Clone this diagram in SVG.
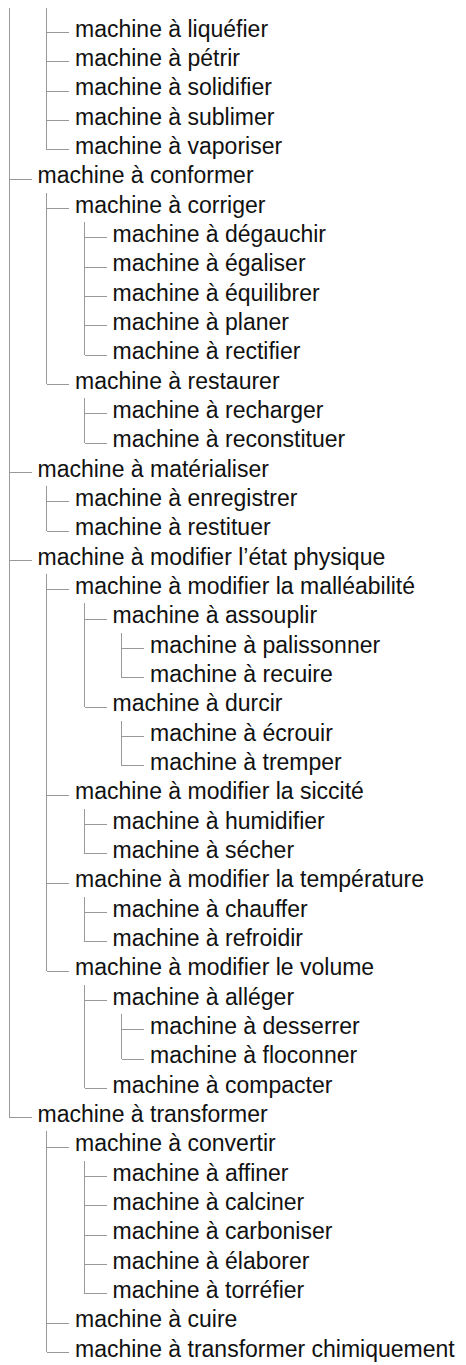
<svg xmlns="http://www.w3.org/2000/svg" width="466" height="1365" viewBox="0 0 466 1365">
<style>
text{font-family:"Liberation Sans",Arial,sans-serif;font-size:23px;fill:#111}
#connectors path{fill:none;stroke:#999;stroke-width:1;shape-rendering:crispEdges}
</style>
<rect width="466" height="1365" fill="#fff"/>
<g id="connectors">
<path d="M9.5 8V1117.67"/>
<path d="M46.5 8V149.67"/>
<path d="M46.5 192.5V384.33"/>
<path d="M84.5 221.83V355"/>
<path d="M84.5 397.83V443"/>
<path d="M46.5 485.83V531"/>
<path d="M46.5 573.83V971"/>
<path d="M84.5 603.17V707"/>
<path d="M121.5 632.5V677.67"/>
<path d="M121.5 720.5V765.67"/>
<path d="M84.5 808.5V853.67"/>
<path d="M84.5 896.5V941.67"/>
<path d="M84.5 984.5V1088.33"/>
<path d="M121.5 1013.83V1059"/>
<path d="M46.5 1131.17V1352.33"/>
<path d="M84.5 1160.5V1293.67"/>
<path d="M46.5 32.33h22M46.5 61.67h22M46.5 91h22M46.5 120.33h22M46.5 149.67h22"/>
<path d="M9.5 179h22M46.5 208.33h22M84.5 237.67h22M84.5 267h22M84.5 296.33h22M84.5 325.67h22M84.5 355h22M46.5 384.33h22M84.5 413.67h22M84.5 443h22"/>
<path d="M9.5 472.33h22M46.5 501.67h22M46.5 531h22"/>
<path d="M9.5 560.33h22M46.5 589.67h22M84.5 619h22M121.5 648.33h22M121.5 677.67h22M84.5 707h22M121.5 736.33h22M121.5 765.67h22"/>
<path d="M46.5 795h22M84.5 824.33h22M84.5 853.67h22M46.5 883h22M84.5 912.33h22M84.5 941.67h22"/>
<path d="M46.5 971h22M84.5 1000.33h22M121.5 1029.67h22M121.5 1059h22M84.5 1088.33h22"/>
<path d="M9.5 1117.67h22M46.5 1147h22M84.5 1176.33h22M84.5 1205.67h22M84.5 1235h22M84.5 1264.33h22M84.5 1293.67h22M46.5 1323h22M46.5 1352.33h22"/>
</g>
<g id="n01"><text x="75" y="36.5">machine à liquéfier</text></g>
<g id="n02"><text x="75" y="65.9">machine à pétrir</text></g>
<g id="n03"><text x="75" y="95.2">machine à solidifier</text></g>
<g id="n04"><text x="75" y="124.5">machine à sublimer</text></g>
<g id="n05"><text x="75" y="153.9">machine à vaporiser</text></g>
<g id="n06"><text x="37.5" y="183.2">machine à conformer</text></g>
<g id="n07"><text x="75" y="212.5">machine à corriger</text></g>
<g id="n08"><text x="112.5" y="241.9">machine à dégauchir</text></g>
<g id="n09"><text x="112.5" y="271.2">machine à égaliser</text></g>
<g id="n10"><text x="112.5" y="300.5">machine à équilibrer</text></g>
<g id="n11"><text x="112.5" y="329.9">machine à planer</text></g>
<g id="n12"><text x="112.5" y="359.2">machine à rectifier</text></g>
<g id="n13"><text x="75" y="388.5">machine à restaurer</text></g>
<g id="n14"><text x="112.5" y="417.9">machine à recharger</text></g>
<g id="n15"><text x="112.5" y="447.2">machine à reconstituer</text></g>
<g id="n16"><text x="37.5" y="476.5">machine à matérialiser</text></g>
<g id="n17"><text x="75" y="505.9">machine à enregistrer</text></g>
<g id="n18"><text x="75" y="535.2">machine à restituer</text></g>
<g id="n19"><text x="37.5" y="564.5">machine à modifier l’état physique</text></g>
<g id="n20"><text x="75" y="593.9">machine à modifier la malléabilité</text></g>
<g id="n21"><text x="112.5" y="623.2">machine à assouplir</text></g>
<g id="n22"><text x="150" y="652.5">machine à palissonner</text></g>
<g id="n23"><text x="150" y="681.9">machine à recuire</text></g>
<g id="n24"><text x="112.5" y="711.2">machine à durcir</text></g>
<g id="n25"><text x="150" y="740.5">machine à écrouir</text></g>
<g id="n26"><text x="150" y="769.9">machine à tremper</text></g>
<g id="n27"><text x="75" y="799.2">machine à modifier la siccité</text></g>
<g id="n28"><text x="112.5" y="828.5">machine à humidifier</text></g>
<g id="n29"><text x="112.5" y="857.9">machine à sécher</text></g>
<g id="n30"><text x="75" y="887.2">machine à modifier la température</text></g>
<g id="n31"><text x="112.5" y="916.5">machine à chauffer</text></g>
<g id="n32"><text x="112.5" y="945.9">machine à refroidir</text></g>
<g id="n33"><text x="75" y="975.2">machine à modifier le volume</text></g>
<g id="n34"><text x="112.5" y="1004.5">machine à alléger</text></g>
<g id="n35"><text x="150" y="1033.9">machine à desserrer</text></g>
<g id="n36"><text x="150" y="1063.2">machine à floconner</text></g>
<g id="n37"><text x="112.5" y="1092.5">machine à compacter</text></g>
<g id="n38"><text x="37.5" y="1121.9">machine à transformer</text></g>
<g id="n39"><text x="75" y="1151.2">machine à convertir</text></g>
<g id="n40"><text x="112.5" y="1180.5">machine à affiner</text></g>
<g id="n41"><text x="112.5" y="1209.9">machine à calciner</text></g>
<g id="n42"><text x="112.5" y="1239.2">machine à carboniser</text></g>
<g id="n43"><text x="112.5" y="1268.5">machine à élaborer</text></g>
<g id="n44"><text x="112.5" y="1297.9">machine à torréfier</text></g>
<g id="n45"><text x="75" y="1327.2">machine à cuire</text></g>
<g id="n46"><text x="75" y="1356.5">machine à transformer chimiquement</text></g>
</svg>
